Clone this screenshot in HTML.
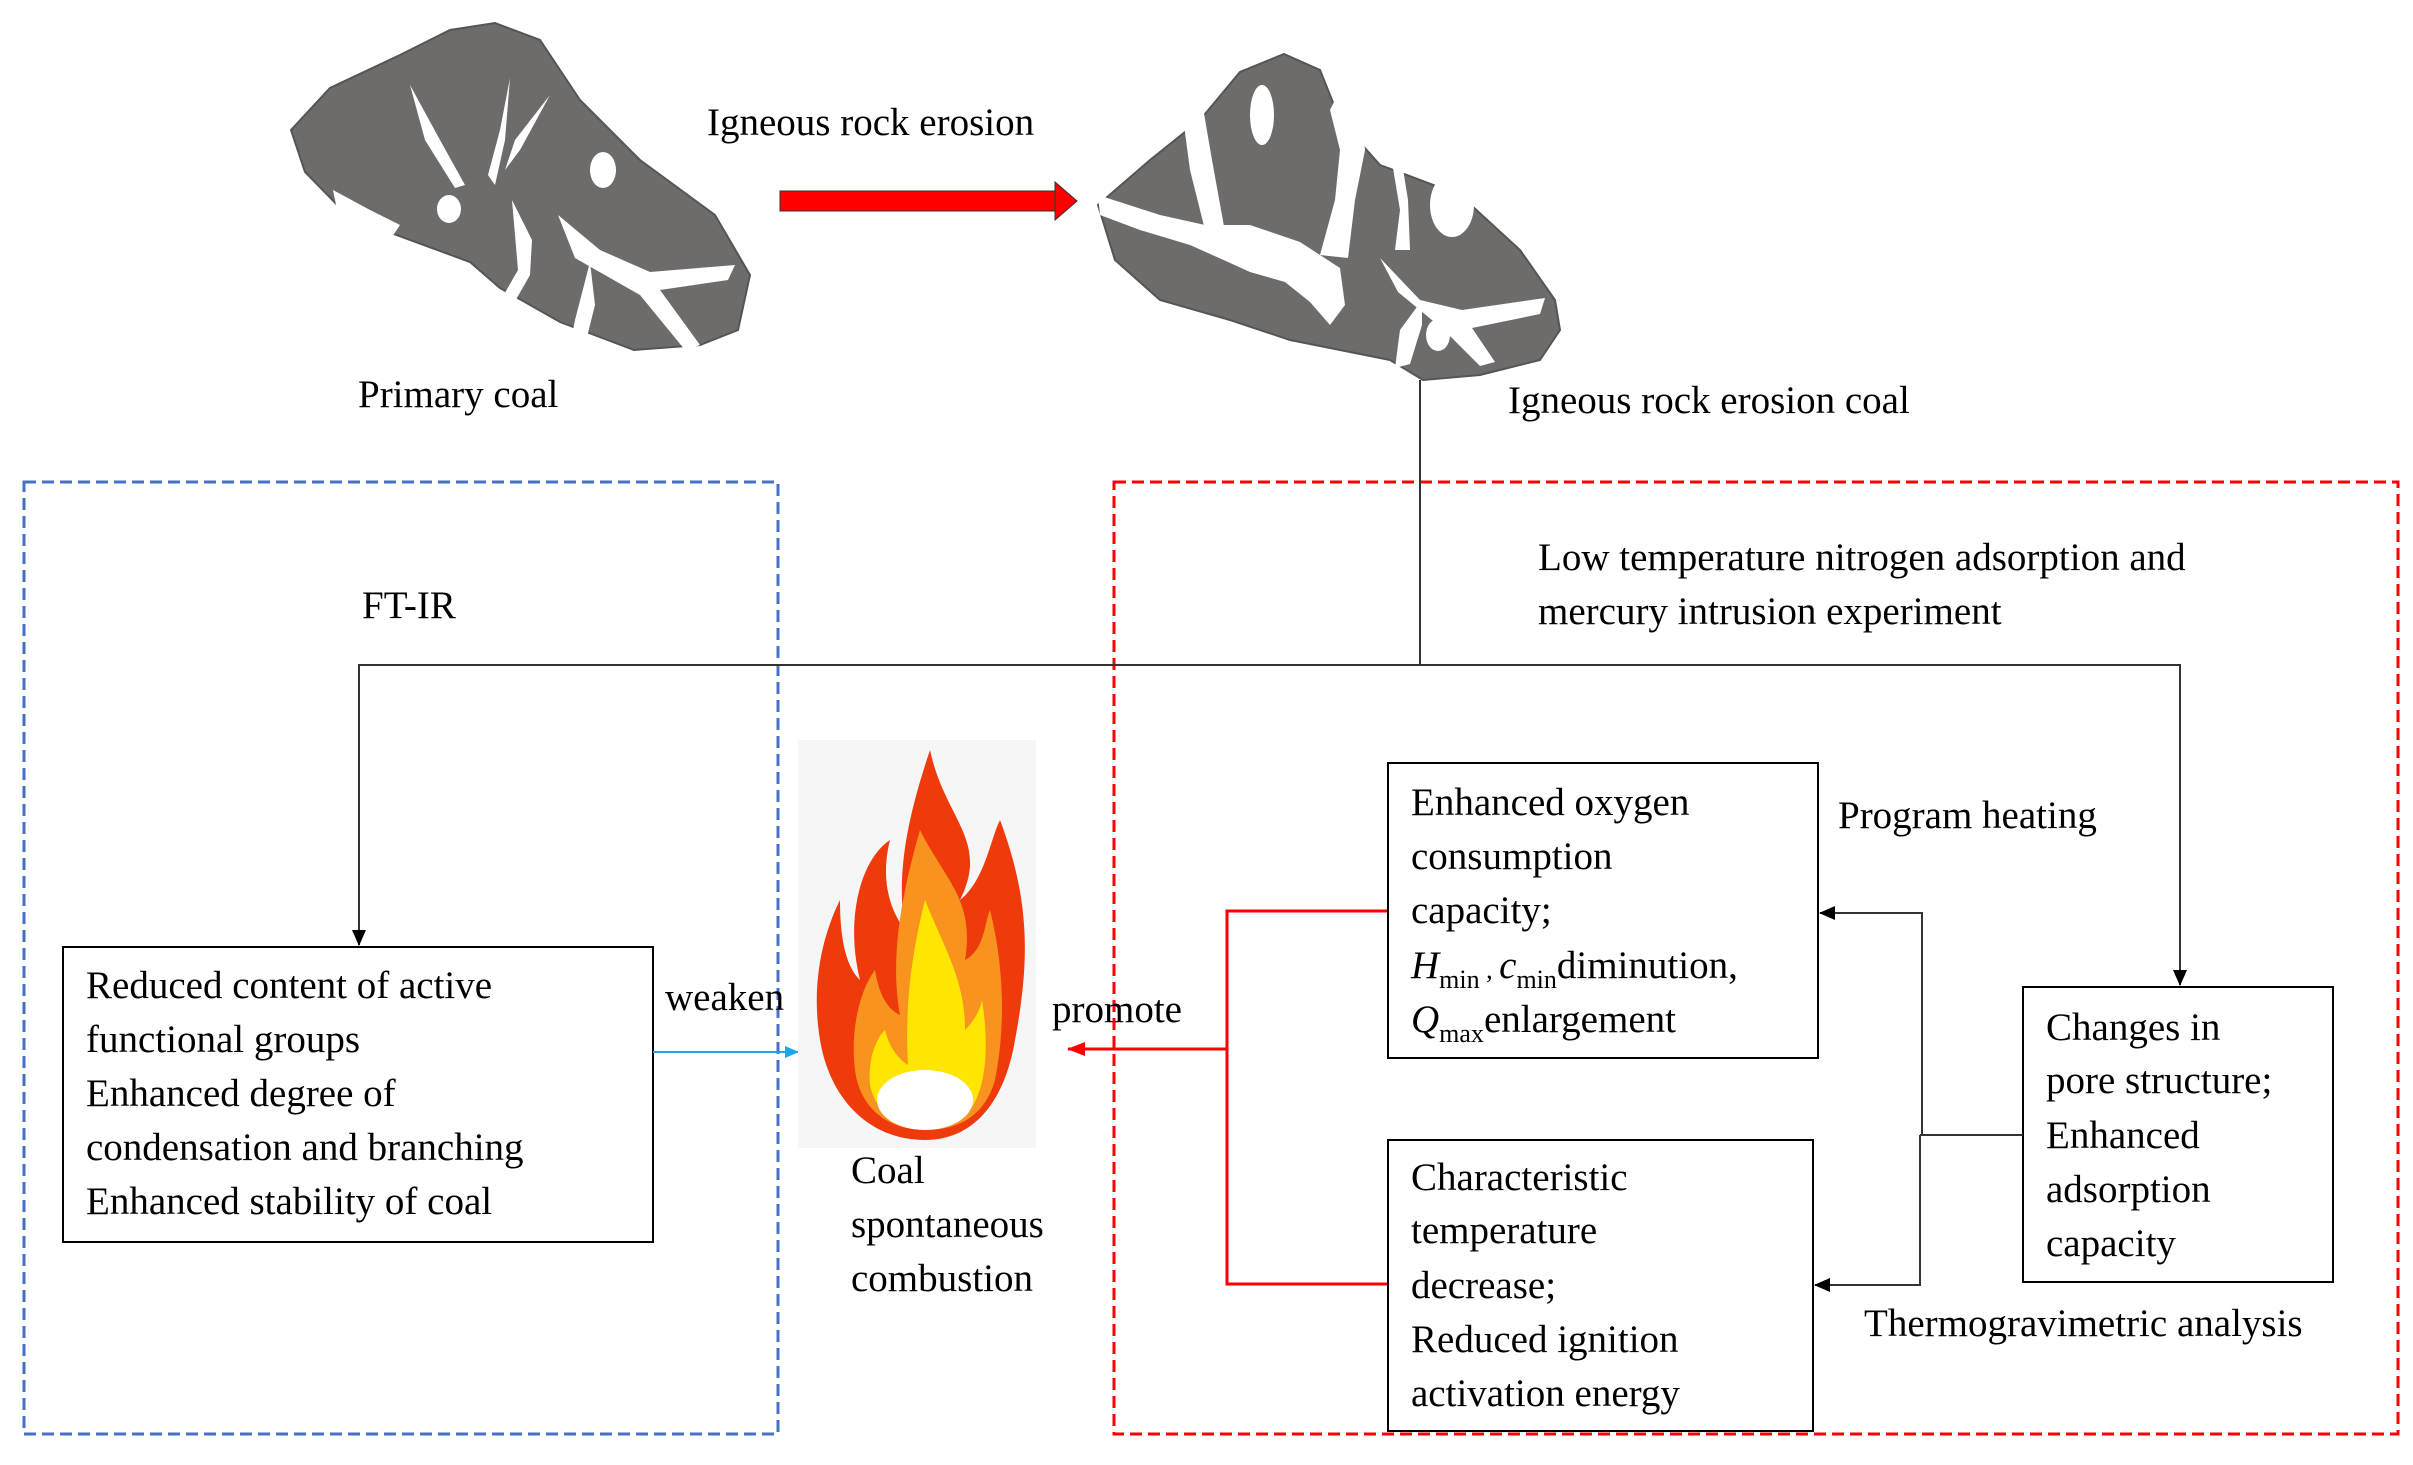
<!DOCTYPE html>
<html><head><meta charset="utf-8"><style>
html,body{margin:0;padding:0;background:#fff;}
svg{display:block;}
text{font-family:"Liberation Serif",serif;font-size:39px;fill:#000;}
</style></head><body>
<svg width="2413" height="1465" viewBox="0 0 2413 1465" xmlns="http://www.w3.org/2000/svg">
<defs>
<marker id="ab2" markerWidth="16" markerHeight="16" refX="15" refY="8" orient="auto" markerUnits="userSpaceOnUse"><path d="M0,1 L16,8 L0,15 z" fill="#000"/></marker>
<marker id="ar" markerWidth="18" markerHeight="18" refX="17" refY="9" orient="auto" markerUnits="userSpaceOnUse"><path d="M0,2 L18,9 L0,16 z" fill="#f00"/></marker>
<marker id="ac" markerWidth="14" markerHeight="14" refX="13" refY="7" orient="auto" markerUnits="userSpaceOnUse"><path d="M0,1 L14,7 L0,13 z" fill="#1ea7e6"/></marker>
</defs>

<!-- primary coal -->
<path d="M495,23 L540,40 L580,100 L640,160 L715,215 L750,275 L738,330 L700,345 L634,350 L560,322 L500,288 L470,262 L350,218 L305,172 L291,130 L330,88 L400,55 L450,30 Z" fill="#6e6b6b" stroke="#555" stroke-width="2"/>
<g fill="#fff">
<path d="M410,85 L440,140 L465,185 L455,188 L425,140 Z"/>
<path d="M510,78 L505,140 L495,185 L488,175 L500,130 Z"/>
<path d="M550,95 L520,150 L505,170 L515,140 Z"/>
<ellipse cx="603" cy="170" rx="13" ry="18"/>
<ellipse cx="449" cy="209" rx="12" ry="14"/>
<path d="M333,190 L370,210 L400,225 L390,240 L355,232 L338,215 Z"/>
<path d="M512,200 L532,240 L530,275 L510,310 L498,305 L518,270 L515,235 Z"/>
<path d="M558,215 L600,250 L650,272 L735,265 L728,280 L660,290 L700,345 L685,350 L640,295 L575,258 Z"/>
<path d="M590,262 L575,320 L570,345 L585,345 L595,305 Z"/>
</g>
<!-- eroded coal -->
<path d="M1284,54 L1320,70 L1340,120 L1380,165 L1460,195 L1520,250 L1555,300 L1560,330 L1540,360 L1480,375 L1423,380 L1390,360 L1290,340 L1230,320 L1160,300 L1115,260 L1098,205 L1150,160 L1200,120 L1240,72 Z" fill="#6e6b6b" stroke="#555" stroke-width="2"/>
<g fill="#fff">
<path d="M1098,195 L1160,215 L1205,225 L1250,225 L1300,242 L1340,268 L1345,305 L1330,325 L1310,302 L1285,282 L1250,272 L1228,262 L1190,245 L1140,230 L1100,215 Z"/>
<path d="M1178,80 L1190,170 L1205,230 L1225,232 L1212,160 L1200,90 Z"/>
<path d="M1350,70 L1330,110 L1340,150 L1335,200 L1320,255 L1348,258 L1355,200 L1365,150 L1360,100 Z"/>
<ellipse cx="1262" cy="115" rx="12" ry="30"/>
<ellipse cx="1452" cy="205" rx="22" ry="32"/>
<path d="M1390,150 L1400,210 L1395,250 L1410,250 L1408,200 L1400,150 Z"/>
<path d="M1380,258 L1420,300 L1462,310 L1545,298 L1540,314 L1472,328 L1495,362 L1480,366 L1444,330 L1398,292 Z"/>
<ellipse cx="1438" cy="335" rx="12" ry="16"/>
<path d="M1422,300 L1400,330 L1395,368 L1410,364 L1422,325 Z"/>
</g>

<!-- red arrow -->
<rect x="780" y="191" width="275" height="20" fill="#f00" stroke="#333" stroke-width="1"/>
<path d="M1055,182 L1077,201 L1055,220 Z" fill="#f00" stroke="#333" stroke-width="1"/>

<text x="707" y="135" font-size="38">Igneous rock erosion</text>
<text x="358" y="407" font-size="38">Primary  coal</text>
<text x="1508" y="413" font-size="38">Igneous rock erosion coal</text>

<!-- dashed boxes -->
<rect x="24" y="482" width="754" height="952" fill="none" stroke="#4472c4" stroke-width="3" stroke-dasharray="12,6"/>
<rect x="1114" y="482" width="1284" height="952" fill="none" stroke="#f00" stroke-width="3" stroke-dasharray="12,6"/>

<!-- connectors -->
<polyline points="1420,380 1420,665 359,665 359,945" fill="none" stroke="#333" stroke-width="2" marker-end="url(#ab2)"/>
<polyline points="1420,665 2180,665 2180,985" fill="none" stroke="#333" stroke-width="2" marker-end="url(#ab2)"/>

<text x="362" y="618">FT-IR</text>
<text x="1538" y="570">Low temperature  nitrogen  adsorption  and</text>
<text x="1538" y="624">mercury  intrusion  experiment</text>

<!-- left box -->
<rect x="63" y="947" width="590" height="295" fill="#fff" stroke="#000" stroke-width="2"/>
<text x="86" y="998">Reduced content of active</text>
<text x="86" y="1052">functional  groups</text>
<text x="86" y="1106">Enhanced degree of</text>
<text x="86" y="1160">condensation and branching</text>
<text x="86" y="1214">Enhanced stability  of coal</text>

<text x="665" y="1010">weaken</text>
<line x1="653" y1="1052" x2="798" y2="1052" stroke="#1ea7e6" stroke-width="2" marker-end="url(#ac)"/>

<!-- flame -->
<rect x="798" y="740" width="238" height="408" fill="#f6f6f6"/>
<path d="M930,750 C945,820 990,840 960,900 C985,880 990,840 1000,820 C1030,900 1030,960 1015,1040 C1005,1100 975,1140 925,1140 C870,1140 830,1100 820,1040 C810,980 825,930 840,900 C840,950 850,970 860,980 C845,920 860,860 890,840 C880,880 890,910 905,930 C895,870 910,810 930,750 Z" fill="#ef3a0c"/>
<path d="M920,830 C945,880 975,900 965,960 C985,950 985,920 990,910 C1005,970 1005,1030 995,1080 C985,1115 960,1130 925,1130 C890,1130 860,1110 855,1070 C850,1030 860,990 875,970 C880,1000 890,1010 900,1015 C890,960 900,900 920,830 Z" fill="#f7931e"/>
<path d="M925,900 C945,950 965,980 965,1030 C975,1020 980,1010 982,1000 C990,1050 985,1090 970,1110 C955,1125 935,1130 920,1128 C895,1125 875,1110 870,1085 C868,1060 875,1040 885,1030 C890,1050 900,1060 908,1065 C905,1010 910,960 925,900 Z" fill="#ffe600"/>
<ellipse cx="925" cy="1100" rx="48" ry="30" fill="#fff"/>

<text x="851" y="1183">Coal</text>
<text x="851" y="1237">spontaneous</text>
<text x="851" y="1291">combustion</text>

<text x="1052" y="1022">promote</text>

<!-- red connector -->
<polyline points="1388,911 1227,911 1227,1284 1388,1284" fill="none" stroke="#f00" stroke-width="3"/>
<line x1="1227" y1="1049" x2="1068" y2="1049" stroke="#f00" stroke-width="3" marker-end="url(#ar)"/>

<!-- oxygen box -->
<rect x="1388" y="763" width="430" height="295" fill="#fff" stroke="#000" stroke-width="2"/>
<text x="1411" y="815">Enhanced oxygen</text>
<text x="1411" y="869">consumption</text>
<text x="1411" y="923">capacity;</text>
<text x="1411" y="978"><tspan font-style="italic">H</tspan><tspan font-size="26" dy="10">min</tspan><tspan dy="-10" font-size="26"> , </tspan><tspan font-style="italic">c</tspan><tspan font-size="26" dy="10">min</tspan><tspan dy="-10">diminution,</tspan></text>
<text x="1411" y="1032"><tspan font-style="italic">Q</tspan><tspan font-size="26" dy="10">max</tspan><tspan dy="-10">enlargement</tspan></text>

<!-- char box -->
<rect x="1388" y="1140" width="425" height="291" fill="#fff" stroke="#000" stroke-width="2"/>
<text x="1411" y="1190">Characteristic</text>
<text x="1411" y="1243">temperature</text>
<text x="1411" y="1298">decrease;</text>
<text x="1411" y="1352">Reduced ignition</text>
<text x="1411" y="1406">activation  energy</text>

<!-- right box -->
<rect x="2023" y="987" width="310" height="295" fill="#fff" stroke="#000" stroke-width="2"/>
<text x="2046" y="1040">Changes in</text>
<text x="2046" y="1093">pore structure;</text>
<text x="2046" y="1148">Enhanced</text>
<text x="2046" y="1202">adsorption</text>
<text x="2046" y="1256">capacity</text>

<polyline points="2023,1135 1920,1135" fill="none" stroke="#333" stroke-width="2"/>
<polyline points="1922,1135 1922,913 1820,913" fill="none" stroke="#333" stroke-width="2" marker-end="url(#ab2)"/>
<polyline points="1920,1135 1920,1285 1815,1285" fill="none" stroke="#333" stroke-width="2" marker-end="url(#ab2)"/>

<text x="1838" y="828">Program heating</text>
<text x="1864" y="1336">Thermogravimetric  analysis</text>
</svg>
</body></html>
